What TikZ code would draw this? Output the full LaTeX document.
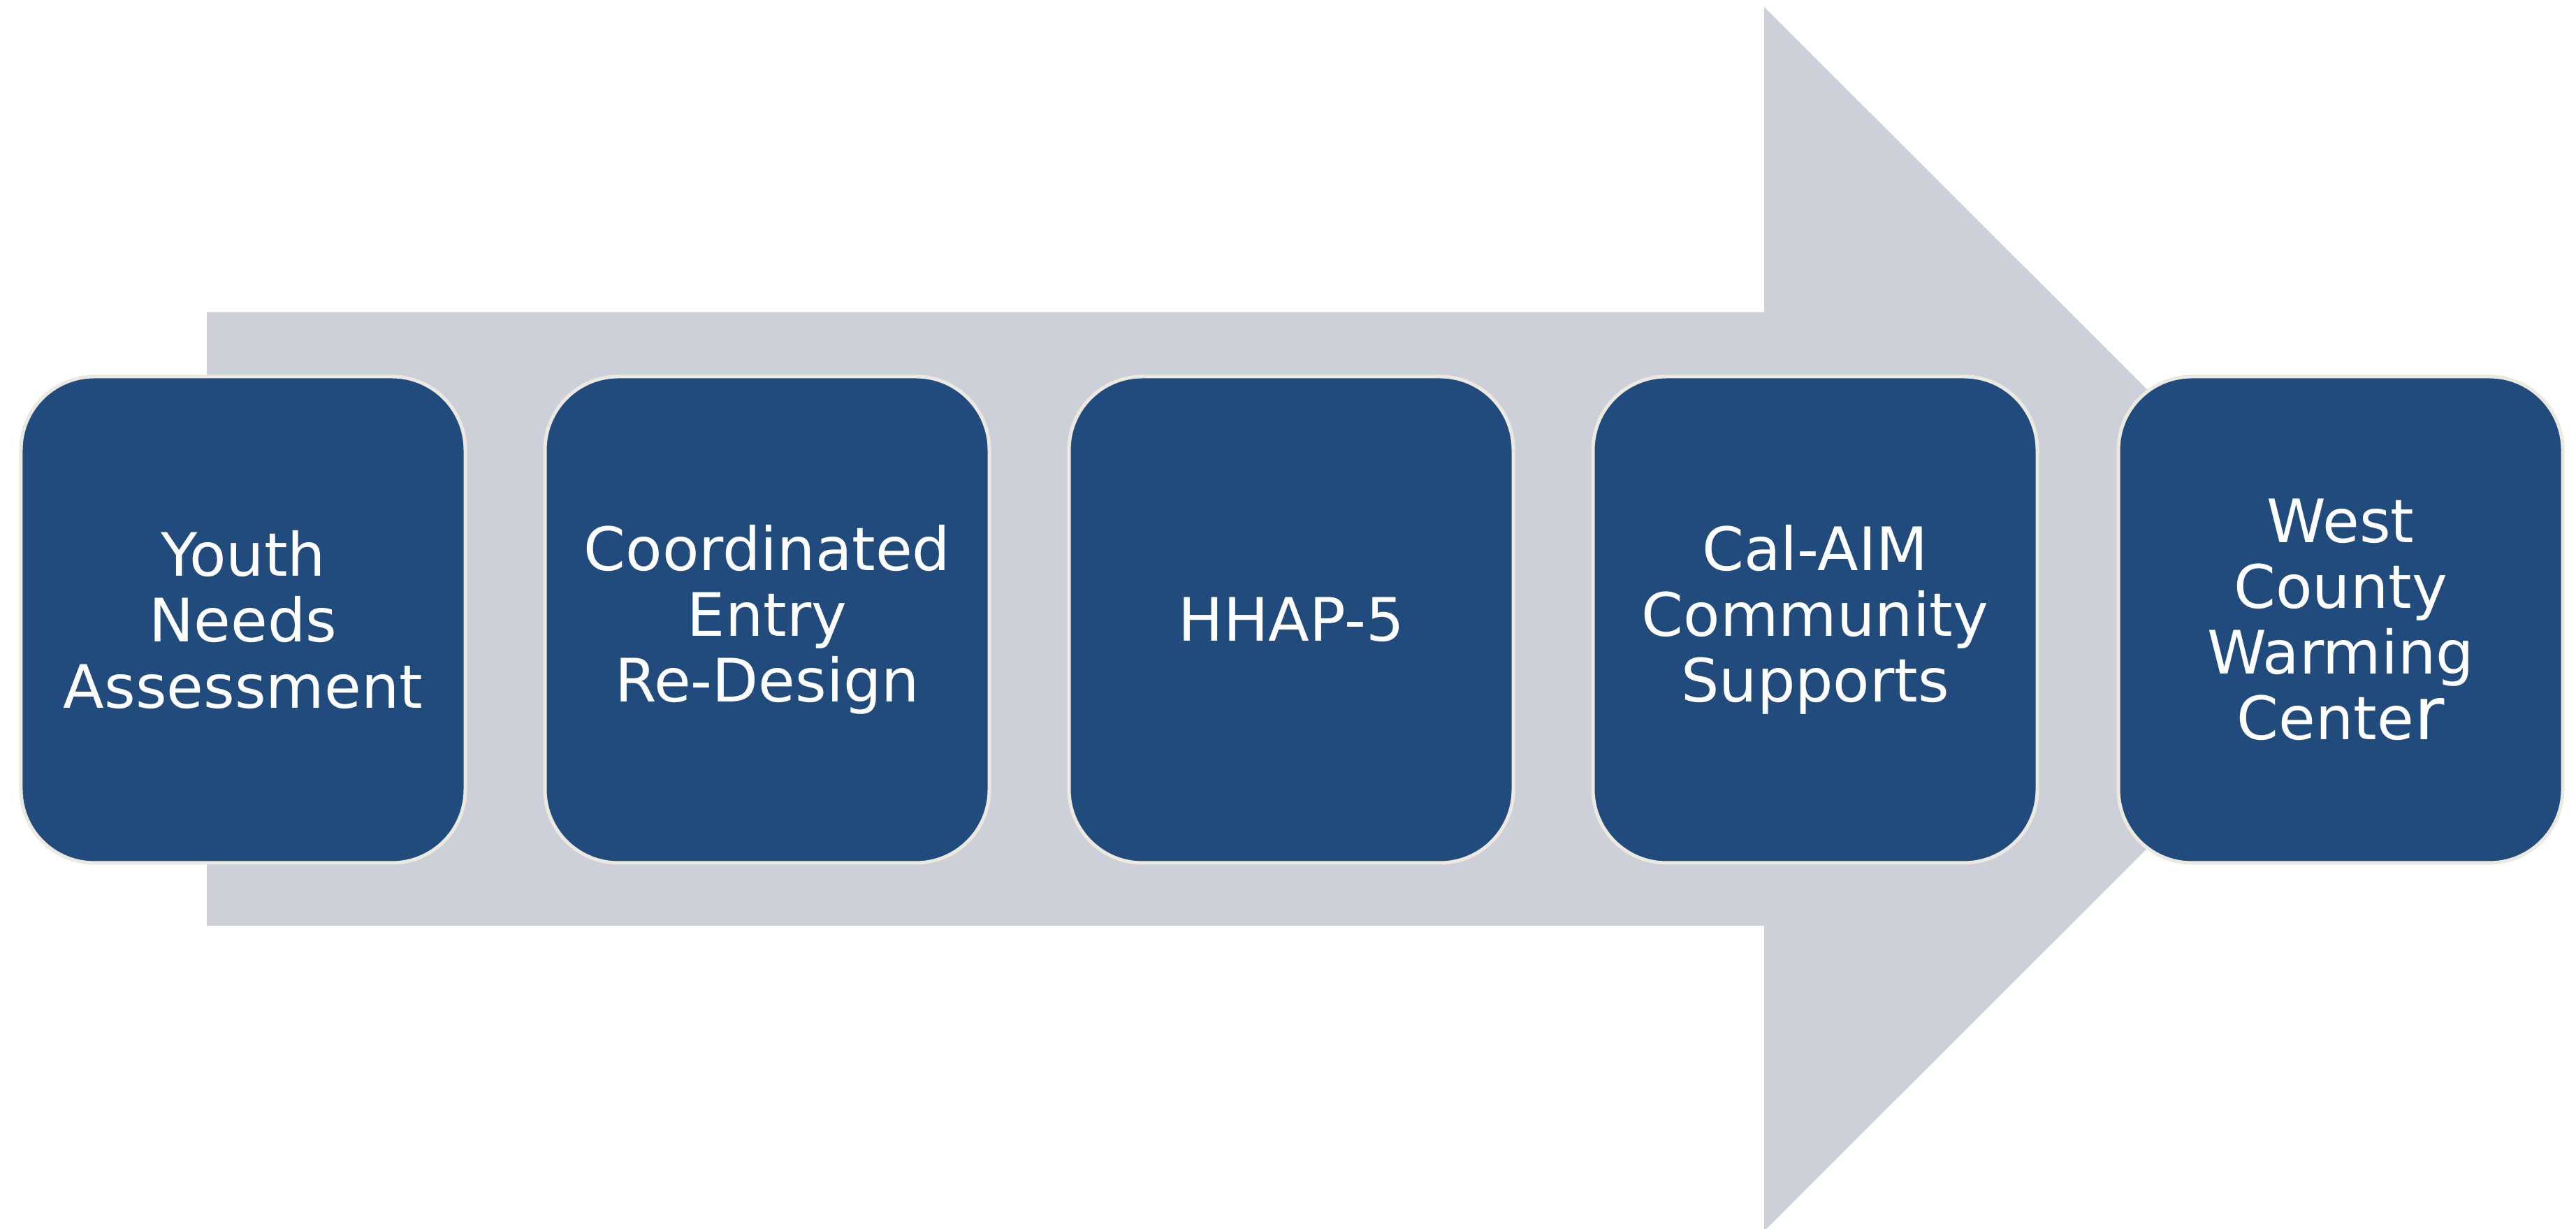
\documentclass[tikz,border=0pt]{standalone}
\usepackage{fontspec}
\setmainfont{DejaVu Sans}
\definecolor{arrowgray}{HTML}{CDD0D9}
\definecolor{boxblue}{HTML}{214A7D}
\definecolor{boxedge}{HTML}{ECEAE0}
\begin{document}
\begin{tikzpicture}[
  stepbox/.style={draw=boxedge, line width=0.05cm, fill=boxblue, rounded corners=1.05cm,
    minimum width=6.36cm, minimum height=6.96cm, text=white, align=center,
    font=\fontsize{24.4pt}{26.8pt}\selectfont, inner sep=0pt}
]
\useasboundingbox (0,0) rectangle (36.87,17.59);
\fill[white] (0,0) rectangle (36.87,17.59);
% big background arrow
\fill[arrowgray] (2.96,13.12) -- (25.25,13.12) -- (25.25,17.49) -- (34.02,8.73)
  -- (25.25,-0.03) -- (25.25,4.34) -- (2.96,4.34) -- cycle;
% steps
\node[stepbox] (s1) at (3.48,8.72) {Youth\\Needs\\Assessment};
\node[stepbox] (s2) at (10.98,8.72) {Coordinated\\Entry\\Re-Design};
\node[stepbox] (s3) at (18.48,8.72) {HHAP-5};
\node[stepbox] (s4) at (25.98,8.72) {Cal-AIM\\Community\\Supports};
\node[stepbox] (s5) at (33.50,8.72) {West\\County\\Warming\\Cente{\fontsize{30pt}{26.8pt}\selectfont r}};
\end{tikzpicture}
\end{document}
